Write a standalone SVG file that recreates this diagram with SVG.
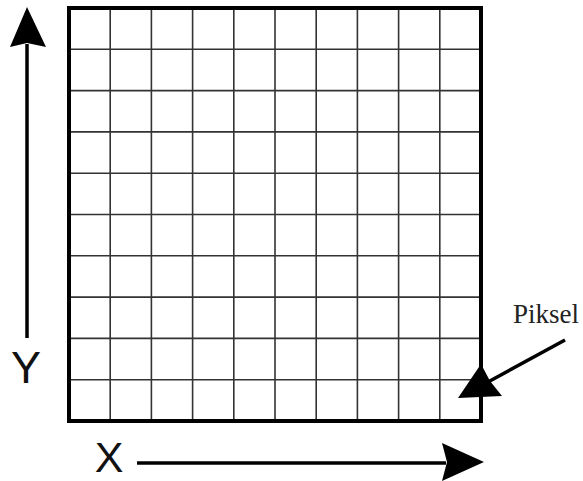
<svg xmlns="http://www.w3.org/2000/svg" width="583" height="481" viewBox="0 0 583 481">
<style>
.grid{stroke:#333;stroke-width:1.6;fill:none}
.frame{stroke:#000;stroke-width:4;fill:none}
.shaft{stroke:#000;stroke-width:3.5;fill:none}
.head{fill:#000;stroke:none}
.axis{font-family:"Liberation Sans",Arial,sans-serif;font-size:45px;fill:#111}
.lbl{font-family:"Liberation Serif","Times New Roman",serif;font-size:27px;fill:#222}
</style>
<rect width="583" height="481" fill="#fff"/>
<g id="grid">
<path class="grid" d="M110.2 8V421M151.4 8V421M192.6 8V421M233.8 8V421M275 8V421M316.2 8V421M357.4 8V421M398.6 8V421M439.8 8V421M69 49.3H481M69 90.6H481M69 131.9H481M69 173.2H481M69 214.5H481M69 255.8H481M69 297.1H481M69 338.4H481M69 379.7H481"/>
<rect class="frame" x="69" y="8" width="412" height="413"/>
</g>
<g id="label-y"><text class="axis" x="26" y="383" text-anchor="middle">Y</text></g>
<g id="label-x"><text class="axis" x="109" y="471.5" text-anchor="middle" style="font-size:43px">X</text></g>
<g id="label-piksel"><text class="lbl" x="513" y="323">Piksel</text></g>
<g id="connectors">
<line class="shaft" x1="27" y1="44" x2="27" y2="338"/>
<polygon class="head" points="27,7 46,47 27,43 10,47"/>
<line class="shaft" x1="137" y1="463" x2="446" y2="463"/>
<polygon class="head" points="484,462 442,481 447,462 442,443"/>
<line class="shaft" x1="565" y1="340" x2="488" y2="382"/>
<polygon class="head" points="458,398 481,364 490,381 502,396"/>
</g>
</svg>
